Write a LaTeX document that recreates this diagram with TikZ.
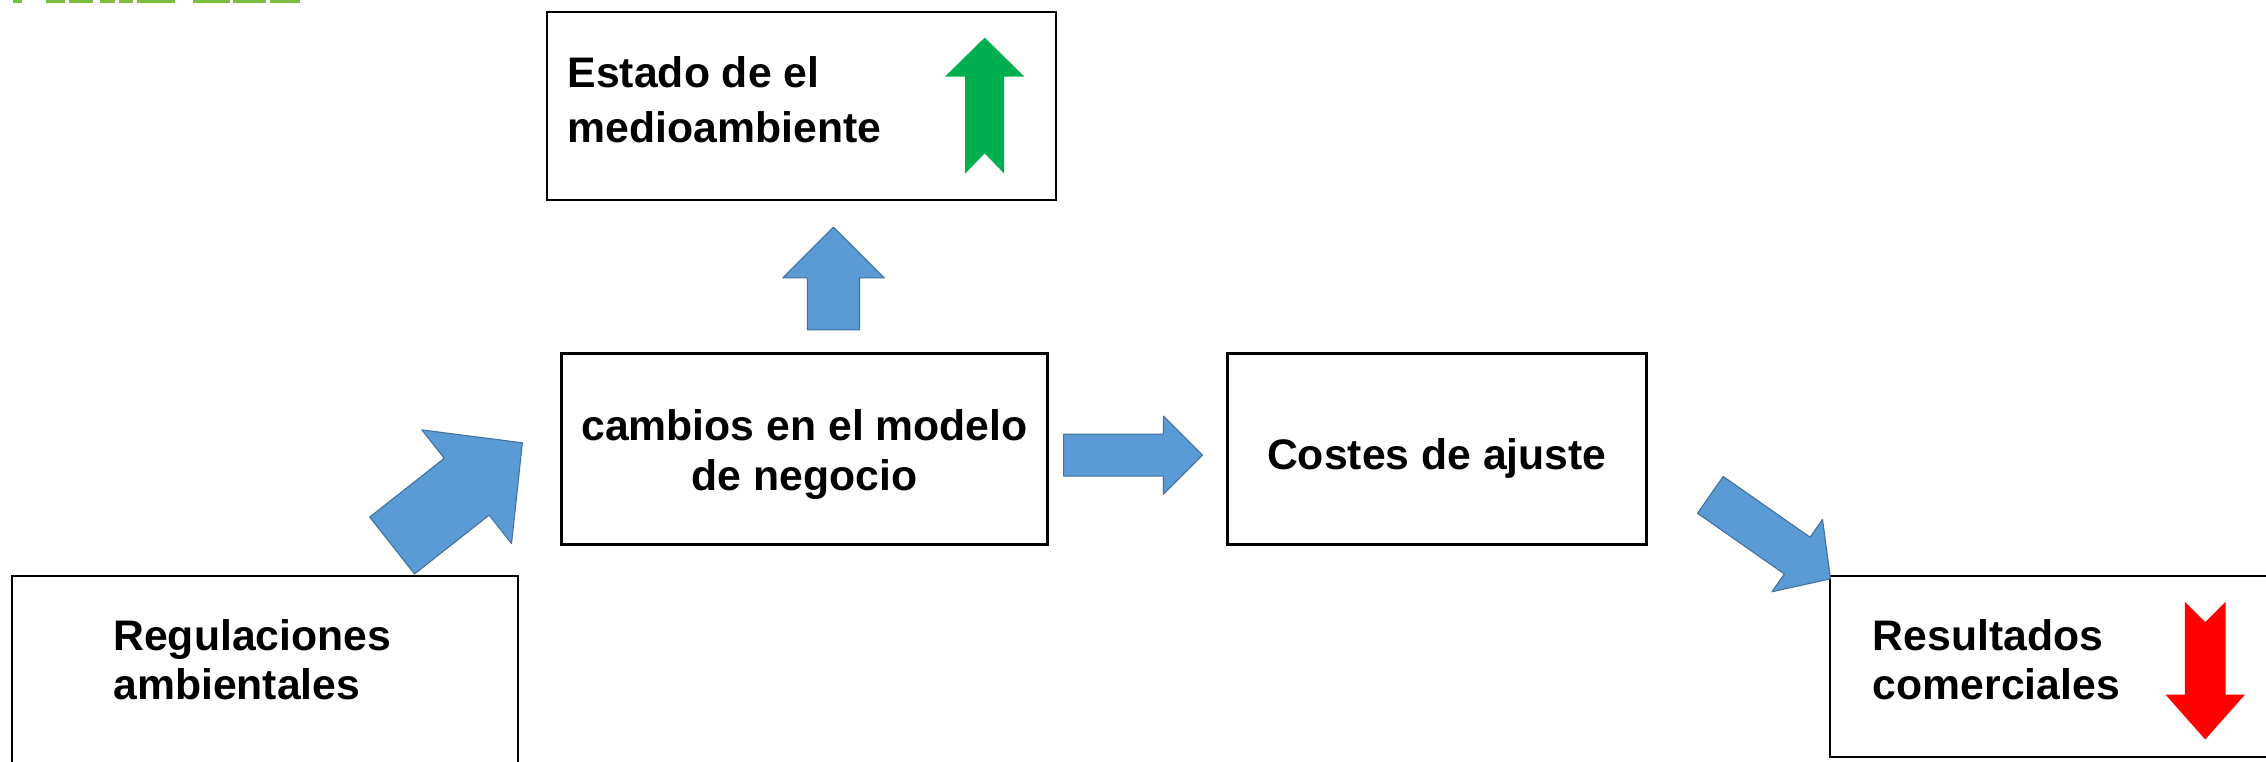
\documentclass[tikz,border=0pt]{standalone}
\usepackage{fontspec}
\setmainfont{Liberation Sans}
\usetikzlibrary{calc}
\definecolor{blfill}{HTML}{5B9BD5}
\definecolor{bldraw}{HTML}{41719C}
\definecolor{upgreen}{HTML}{00B050}
\definecolor{dnred}{HTML}{FF0000}
\definecolor{logogreen}{HTML}{7CBF3F}
% #1 style, #2 tail, #3 tip, #4 shaft half width, #5 head half width, #6 head length, #7 notch depth
\newcommand{\blkarrow}[7]{%
  \coordinate (tmpb) at ($(#3)!#6!(#2)$);
  \path[#1] ($(#2)!#4!90:(#3)$) -- ($(tmpb)!#4!90:(#3)$) -- ($(tmpb)!#5!90:(#3)$) -- (#3)
    -- ($(tmpb)!#5!-90:(#3)$) -- ($(tmpb)!#4!-90:(#3)$) -- ($(#2)!#4!-90:(#3)$)
    -- ($(#2)!#7!(#3)$) -- cycle;
}
\tikzset{
  txt/.style={font=\fontsize{16.8pt}{19.5pt}\selectfont\bfseries, inner sep=0pt},
  boxthin/.style={draw=black, line width=0.28mm, inner sep=0pt, outer sep=0pt},
  boxthick/.style={draw=black, line width=0.42mm, inner sep=0pt, outer sep=0pt},
  bluearrow/.style={fill=blfill, draw=bldraw, line width=0.15mm, line join=round},
  greenarrow/.style={fill=upgreen},
  redarrow/.style={fill=dnred},
}
\begin{document}
\begin{tikzpicture}[x=0.2mm, y=-0.2mm]
\clip (0,0) rectangle (1566,526);
\fill[white] (0,0) rectangle (1566,526);
% logo fragment
\foreach \a/\b in {9/15,32/45,48/64.5,69/79.5,82/92,94.5/121,133.6/159,161/184,186.6/207}
  \fill[logogreen] (\a,0) rectangle (\b,2);
% boxes
\node[boxthin, minimum width=70.4mm, minimum height=26mm] (estado) at (554,73) {};
\node[txt, anchor=west, align=left] (estadotxt) at (392,69) {Estado de el\\[2pt]medioambiente};
\node[boxthick, minimum width=67.2mm, minimum height=26.4mm] (cambios) at (556,310) {};
\node[txt, align=center] (cambiostxt) at (556,314) {cambios en el modelo\\de negocio};
\node[boxthick, minimum width=58mm, minimum height=26.4mm] (costes) at (993,310) {};
\node[txt] (costestxt) at (993,317) {Costes de ajuste};
\node[boxthin, minimum width=70mm, minimum height=28.4mm] (regul) at (183,469) {};
\node[txt, anchor=west, align=left] (regultxt) at (78,456) {Regulaciones\\ambientales};
\node[boxthin, minimum width=62mm, minimum height=25mm] (result) at (1420,460.5) {};
\node[txt, anchor=west, align=left] (resulttxt) at (1294,456) {Resultados\\comerciales};
% arrow end points
\coordinate (a1t) at (271,377); \coordinate (a1h) at (361,306);
\coordinate (a2t) at (576,228); \coordinate (a2h) at (576,157);
\coordinate (a3t) at (735,314.5); \coordinate (a3h) at (831,314.5);
\coordinate (a4t) at (1182,342); \coordinate (a4h) at (1265,400);
\coordinate (gt) at (680.5,120); \coordinate (gh) at (680.5,26);
\coordinate (rt) at (1524,416); \coordinate (rh) at (1524,511);
% block arrows
\blkarrow{bluearrow}{a1t}{a1h}{5mm}{10mm}{9.8mm}{0pt}
\blkarrow{bluearrow}{a2t}{a2h}{3.6mm}{7mm}{7mm}{0pt}
\blkarrow{bluearrow}{a3t}{a3h}{2.9mm}{5.4mm}{5.4mm}{0pt}
\blkarrow{bluearrow}{a4t}{a4h}{3.1mm}{6.1mm}{5.6mm}{0pt}
\blkarrow{greenarrow}{gt}{gh}{2.7mm}{5.5mm}{5.4mm}{2.8mm}
\blkarrow{redarrow}{rt}{rh}{2.8mm}{5.5mm}{6.2mm}{2.8mm}
\end{tikzpicture}
\end{document}
